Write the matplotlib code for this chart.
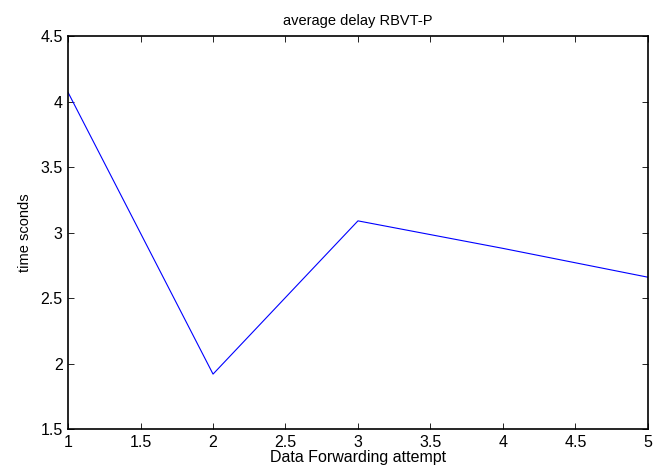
import matplotlib
matplotlib.use('Agg')
import matplotlib.pyplot as plt

plt.rcParams['font.family'] = ['Liberation Sans', 'DejaVu Sans']

attempt = [1, 2, 3, 4, 5]
delay = [4.07, 1.92, 3.09, 2.88, 2.66]

fig = plt.figure(figsize=(6.55, 4.7), dpi=100)
ax = fig.add_axes([0.104, 0.087, 0.885, 0.836])
ax.plot(attempt, delay, color='blue', linewidth=0.8)

ax.set_xlim(1, 5)
ax.set_ylim(1.5, 4.5)
ax.set_xticks([1, 1.5, 2, 2.5, 3, 3.5, 4, 4.5, 5])
ax.set_xticklabels(['1', '1.5', '2', '2.5', '3', '3.5', '4', '4.5', '5'])
ax.set_yticks([1.5, 2, 2.5, 3, 3.5, 4, 4.5])
ax.set_yticklabels(['1.5', '2', '2.5', '3', '3.5', '4', '4.5'])
ax.tick_params(direction='in', top=True, right=True, length=4, width=0.6, labelsize=11.5, pad=4)
for s in ax.spines.values():
    s.set_linewidth(1.2)

ax.set_title('average delay RBVT-P', fontsize=10.5, pad=8)
ax.set_xlabel('Data Forwarding attempt', fontsize=11.5, labelpad=0)
ax.set_ylabel('time sconds', fontsize=10.5, labelpad=6)

fig.savefig('out.png', dpi=100)
